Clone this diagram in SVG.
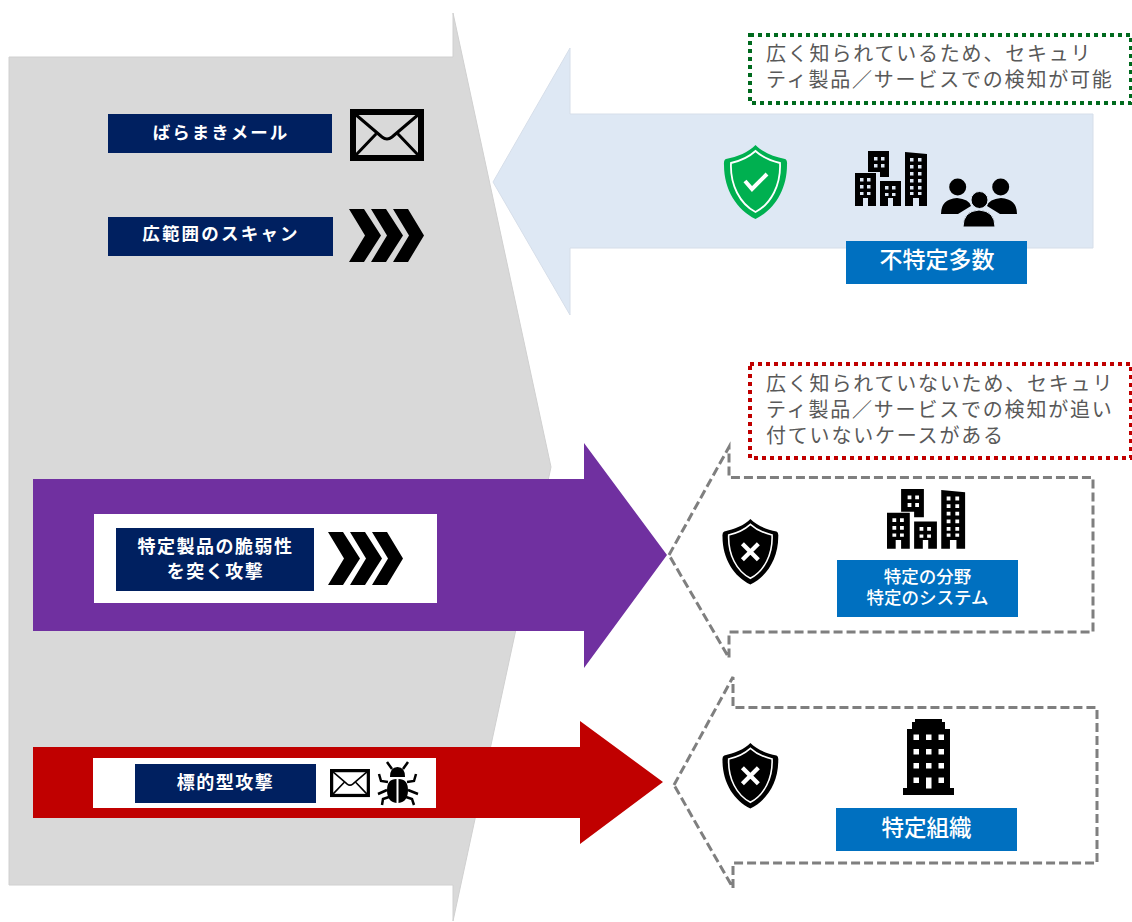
<svg xmlns="http://www.w3.org/2000/svg" width="1132" height="922" viewBox="0 0 1132 922">
<style>
text{font-family:"Noto Sans CJK JP","Noto Sans",sans-serif}
.lbl{fill:#fff;font-weight:700;text-anchor:middle;letter-spacing:1.5px}
.big{fill:#fff;font-weight:500;text-anchor:middle}
.note{fill:#595959;font-size:20px;letter-spacing:1.8px}
.navy{fill:#002060}
.blue{fill:#0070C0}
.dash{fill:none;stroke:#7f7f7f;stroke-width:3;stroke-dasharray:9 4}
.dot{fill:none;stroke-width:4;stroke-dasharray:4 4}
</style>
<defs>
<g id="mail">
<rect x="3" y="3" width="68" height="46" fill="none" stroke="#000" stroke-width="6"/>
<path d="M5 5L32 28Q37 32 42 28L69 5M5 47L26 25M69 47L48 25" fill="none" stroke="#000" stroke-width="3"/>
</g>
<g id="chev">
<path d="M0 0H15L32 26.500L15 53H0L16 26.500Z"/>
<path d="M22 0H37L54 26.500L37 53H22L38 26.500Z"/>
<path d="M44 0H59L75 26.500L59 53H44L60 26.500Z"/>
</g>
<path id="sh" d="M31.500 0C38 7 50 12 61 14Q63.500 15 63 20C63 45 50 65 31.500 74C13 65 0 45 0 20Q-.5 15 2 14C13 12 25 7 31.500 0Z"/>
<path id="shin" d="M31.500 6C37 11 47 16 56 18C57 40 47 59 31.500 67C16 59 6 40 7 18C16 16 26 11 31.500 6Z" fill="none" stroke="#fff" stroke-width="1.800"/>
<g id="shieldx">
<use href="#sh"/><use href="#shin"/>
<path d="M22.500 28L40.500 46M40.500 28L22.500 46" stroke="#fff" stroke-width="4.800" fill="none"/>
</g>
<g id="city">
<path d="M0 22H21V55H13V47H8V55H0Z"/>
<path d="M13 0H34V26H25V21H13Z"/>
<path d="M25 30H46V55H38V47H33V55H25Z"/>
<path d="M50 1L72 3V55H64V47H58V55H50Z"/>
<g fill="currentColor">
<path d="M5 27h3.500v3.500h-3.500zM12 27h3.500v3.500h-3.500zM5 34h3.500v3.500h-3.500zM12 34h3.500v3.500h-3.500zM5 41h3.500v3h-3.500zM12 41h3.500v3h-3.500z"/>
<path d="M19 6h3.500v3.500h-3.500zM26 6h3.500v3.500h-3.500zM19 13h3.500v3.500h-3.500zM26 13h3.500v3.500h-3.500z"/>
<path d="M30 35h3.500v3.500h-3.500zM37 35h3.500v3.500h-3.500zM30 42h3.500v3h-3.500zM37 42h3.500v3h-3.500z"/>
<path d="M55 7h3.500v3.500h-3.500zM63 7h3.500v3.500h-3.500zM55 14h3.500v3.500h-3.500zM63 14h3.500v3.500h-3.500zM55 21h3.500v3.500h-3.500zM63 21h3.500v3.500h-3.500zM55 28h3.500v3.500h-3.500zM63 28h3.500v3.500h-3.500zM55 35h3.500v3.500h-3.500zM63 35h3.500v3.500h-3.500zM55 41h3.500v3h-3.500zM63 41h3.500v3h-3.500z"/>
</g>
</g>
</defs>

<g id="connectors">
<path id="gray-arrow" d="M9 57H453V13L551 467L453 921V885H9Z" fill="#D9D9D9" stroke="#D0D0D0" stroke-width="1"/>
<path id="blue-arrow" d="M493 182L570 48V114H1093V248H570V315Z" fill="#DEE8F4" stroke="#D6DEE9" stroke-width="1"/>
<path id="purple-arrow" d="M33 479H584V443L667 555L584 668V631H33Z" fill="#7030A0"/>
<path id="red-arrow" d="M33 747H580V721L663 782L580 844V818H33Z" fill="#C00000"/>
<path id="dash-mid" class="dash" d="M669 555L729 447V477.500H1093V632H729V658Z"/>
<path id="dash-low" class="dash" d="M674 785L733 677V707.500H1097V863H733V888Z"/>
</g>

<g id="node-mail-spam">
<rect class="navy" x="108" y="114" width="224" height="39"/>
<text class="lbl" x="221" y="139" font-size="17.500" style="letter-spacing:2px">ばらまきメール</text>
<use href="#mail" x="350" y="109"/>
</g>
<g id="node-scan">
<rect class="navy" x="108" y="217" width="225" height="39"/>
<text class="lbl" x="221" y="240" font-size="17.500" style="letter-spacing:2.200px">広範囲のスキャン</text>
<use href="#chev" x="349" y="209"/>
</g>
<g id="node-vuln">
<rect x="94" y="514" width="343" height="89" fill="#fff"/>
<rect class="navy" x="116" y="528" width="198" height="63"/>
<text class="lbl" x="215.500" y="553" font-size="18">特定製品の脆弱性</text>
<text class="lbl" x="215.500" y="578" font-size="18">を突く攻撃</text>
<use href="#chev" x="328" y="532"/>
</g>
<g id="node-targeted">
<rect x="93" y="758" width="343" height="50" fill="#fff"/>
<rect class="navy" x="135" y="764" width="181" height="39"/>
<text class="lbl" x="225.500" y="789" font-size="18">標的型攻撃</text>
<use href="#mail" transform="translate(330 769) scale(.54)"/>
<g id="bug">
<path d="M390 777Q390 767 397.500 767Q405 767 405 777Z"/>
<path d="M387 790Q387 779 396.500 779V803Q387 802 387 790ZM408 790Q408 779 398.500 779V803Q408 802 408 790Z"/>
<path d="M392 769L387 762M403 769L408 762M388 782L381 781L379 774M407 782L414 781L416 774M387 790L378 794M408 790L418 794M389 797L383 799L382 805M406 797L412 799L414 805" fill="none" stroke="#000" stroke-width="2.500"/>
</g>
</g>

<g id="node-public">
<text class="note" x="766" y="61">広く知られているため、セキュリ</text>
<text class="note" x="766" y="87">ティ製品／サービスでの検知が可能</text>
<rect class="dot" x="750" y="35" width="381" height="68" stroke="#006A1E"/>
<use href="#sh" x="724" y="145" fill="#00B050"/>
<use href="#shin" x="724" y="145"/>
<path d="M745 181L752 189L767 174" fill="none" stroke="#fff" stroke-width="4"/>
<use href="#city" x="855" y="151" color="#DEE8F4"/>
<g id="people">
<circle cx="957.700" cy="187" r="8.500"/>
<circle cx="1000.700" cy="187" r="8.500"/>
<path d="M941 214Q941 199 957 198Q969 199 971 206L958 214ZM1017 214Q1017 199 1001 198Q989 199 987 206L1000 214Z"/>
<circle cx="979.500" cy="200" r="8.500" stroke="#DEE8F4"/>
<path d="M963 227Q963 211 979 210Q995 211 995 227Z" stroke="#DEE8F4"/>
</g>
<rect class="blue" x="846" y="241" width="181" height="43"/>
<text class="big" x="937" y="268" font-size="23">不特定多数</text>
</g>

<g id="node-specific">
<text class="note" x="766" y="391">広く知られていないため、セキュリ</text>
<text class="note" x="766" y="417">ティ製品／サービスでの検知が追い</text>
<text class="note" x="766" y="443">付ていないケースがある</text>
<rect class="dot" x="750" y="364" width="381" height="94" stroke="#C00000"/>
<use href="#shieldx" transform="translate(722.500 519) scale(.885)"/>
<use href="#city" transform="translate(887 489) scale(1.085)" color="#fff"/>
<rect class="blue" x="837" y="560" width="181" height="57"/>
<text class="big" x="927.500" y="583" font-size="17.500">特定の分野</text>
<text class="big" x="927.500" y="604" font-size="17.500">特定のシステム</text>
</g>

<g id="node-org">
<use href="#shieldx" transform="translate(722.500 743) scale(.885)"/>
<g id="tower">
<path d="M912 729V722H915V719H942V722H945V729H950V788H954V795H903V788H907V729Z"/>
<path fill="#fff" d="M913.500 734.500h5.500v5.500h-5.500zM926 734.500h5.500v5.500h-5.500zM938.500 734.500h5.500v5.500h-5.500zM913.500 749h5.500v5.500h-5.500zM926 749h5.500v5.500h-5.500zM938.500 749h5.500v5.500h-5.500zM913.500 763h5.500v5.500h-5.500zM926 763h5.500v5.500h-5.500zM938.500 763h5.500v5.500h-5.500zM913.500 777.500h5.500v5.500h-5.500zM938.500 777.500h5.500v5.500h-5.500zM926 777.500h5.500v11h-5.500z"/>
</g>
<rect class="blue" x="836" y="808" width="181" height="43"/>
<text class="big" x="926.500" y="836" font-size="22.500">特定組織</text>
</g>
</svg>
